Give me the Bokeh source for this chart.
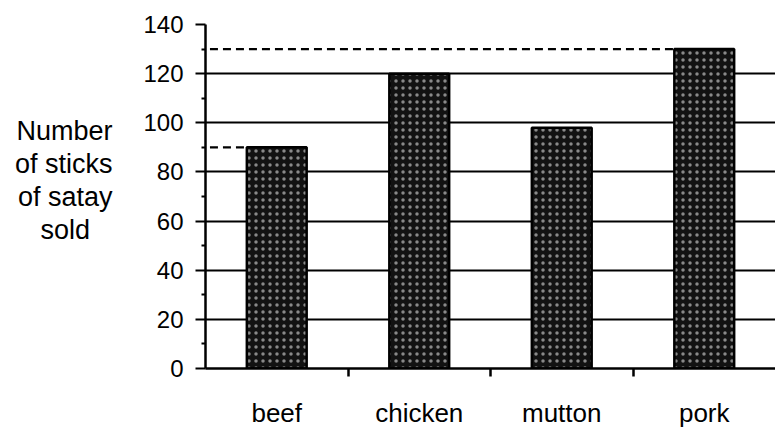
import numpy as np
from bokeh.plotting import figure
from bokeh.models import FixedTicker, Range1d, ColumnDataSource
from bokeh.embed import file_html
from bokeh.resources import INLINE

categories = ["beef", "chicken", "mutton", "pork"]
sold = [90, 120, 98, 130]
y_ticks = [0, 20, 40, 60, 80, 100, 120, 140]
y_minor = [10, 30, 50, 70, 90, 110, 130]
dashed_refs = ["beef", "pork"]
NB = "\u00a0"
# lines of the horizontal y title (non-breaking spaces only centre the short line)
y_title_lines = ["Number", "of sticks", "of satay", "sold" + NB * 3, NB]

xs = np.arange(len(categories)) + 0.5
src = ColumnDataSource(dict(x=xs, top=sold))

FONT = "Liberation Sans"

p = figure(width=775, height=430, output_backend="svg", toolbar_location=None,
           x_range=Range1d(0, len(categories)), y_range=Range1d(0, 140),
           min_border_left=205, min_border_right=0, min_border_top=24, min_border_bottom=60)
p.outline_line_color = None
p.background_fill_color = "white"

# gridlines
p.xgrid.visible = False
p.ygrid.ticker = FixedTicker(ticks=y_ticks[1:])
p.ygrid.grid_line_color = "black"
p.ygrid.grid_line_width = 2

# dashed reference lines from the axis to the bar tops
for c in dashed_refs:
    i = categories.index(c)
    p.segment(x0=[-0.06], y0=[sold[i]], x1=[xs[i] - 0.21], y1=[sold[i]],
              line_color="black", line_width=2.2, line_dash="8 5")

# bars
p.vbar(x="x", top="top", width=0.42, bottom=0, source=src,
       fill_color="#121212", line_color="black", line_width=2.5,
       hatch_pattern="dot", hatch_color="white", hatch_scale=7, hatch_alpha=0.5, hatch_weight=1)

# y axis
ya = p.yaxis[0]
ya.ticker = FixedTicker(ticks=y_ticks, minor_ticks=y_minor)
ya.axis_line_width = 2.5
ya.major_tick_line_width = 2
ya.major_tick_out = 10
ya.major_tick_in = 0
ya.minor_tick_line_width = 2
ya.minor_tick_out = 4
ya.minor_tick_in = 0
ya.major_label_standoff = 12
ya.major_label_text_font = FONT
ya.major_label_text_font_size = "24px"
ya.major_label_text_color = "black"
ya.axis_label = "\n".join(y_title_lines)
ya.axis_label_orientation = "horizontal"
ya.axis_label_text_font = FONT
ya.axis_label_text_font_size = "27px"
ya.axis_label_text_font_style = "normal"
ya.axis_label_text_color = "black"
ya.axis_label_text_line_height = 1.1
ya.axis_label_standoff = 28

# x axis: labels at centres, tick marks at the category boundaries
xa = p.xaxis[0]
xa.ticker = FixedTicker(ticks=list(xs), minor_ticks=list(range(1, len(categories))))
xa.major_label_overrides = {float(x): c for x, c in zip(xs, categories)}
xa.axis_line_width = 2.5
xa.major_tick_line_color = None
xa.major_tick_out = 0
xa.major_tick_in = 0
xa.minor_tick_line_width = 2.5
xa.minor_tick_out = 8
xa.minor_tick_in = 0
xa.major_label_standoff = 21
xa.major_label_text_font = FONT
xa.major_label_text_font_size = "26px"
xa.major_label_text_color = "black"

open("out.html", "w").write(file_html(p, INLINE))
